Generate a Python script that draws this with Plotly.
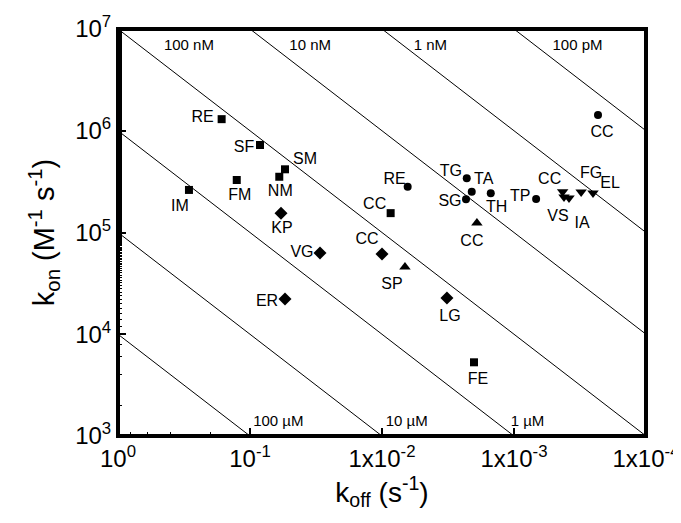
import plotly.graph_objects as go
import numpy as np

# ---------------- data ----------------
sq_names = ["RE", "SF", "SM", "NM", "FM", "IM", "CC", "FE"]
sq_koff = [0.164, 0.084, 0.0543, 0.060, 0.126, 0.29, 8.6e-3, 2.01e-3]
sq_kon = [1.30e6, 7.24e5, 4.18e5, 3.53e5, 3.28e5, 2.62e5, 1.55e5, 5.3e3]

di_names = ["KP", "VG", "ER", "CC", "LG"]
di_koff = [0.0582, 0.0295, 0.0543, 1.0e-2, 3.22e-3]
di_kon = [1.55e5, 6.3e4, 2.22e4, 6.15e4, 2.27e4]

tu_names = ["SP", "CC"]
tu_koff = [6.7e-3, 1.91e-3]
tu_kon = [4.58e4, 1.24e5]

ci_names = ["RE", "TG", "TA", "SG", "TH", "TP", "CC"]
ci_koff = [6.39e-3, 2.28e-3, 2.09e-3, 2.31e-3, 1.50e-3, 6.8e-4, 2.31e-4]
ci_kon = [2.82e5, 3.41e5, 2.52e5, 2.12e5, 2.43e5, 2.13e5, 1.43e6]

td_names = ["CC", "VS", "IA", "FG", "EL"]
td_koff = [4.28e-4, 4.18e-4, 3.83e-4, 3.10e-4, 2.52e-4]
td_kon = [2.52e5, 2.23e5, 2.18e5, 2.50e5, 2.44e5]

kd_values = [1e-4, 1e-5, 1e-6, 1e-7, 1e-8, 1e-9, 1e-10]
kd_labels = ["100 µM", "10 µM", "1 µM", "100 nM", "10 nM", "1 nM", "100 pM"]

x_tickvals = [1, 1e-1, 1e-2, 1e-3, 1e-4]
x_ticktext = ["10<sup>0</sup>", "10<sup>-1</sup>", "1x10<sup>-2</sup>", "1x10<sup>-3</sup>", "1x10<sup>-4</sup>"]
y_tickvals = [1e3, 1e4, 1e5, 1e6, 1e7]
y_ticktext = ["10<sup>3</sup>", "10<sup>4</sup>", "10<sup>5</sup>", "10<sup>6</sup>", "10<sup>7</sup>"]

# ---------------- layout specs ----------------
W, H = 673, 515
ML, MR, MT, MB = 110, 35, 21, 87
X_RANGE = [0, -4]
Y_RANGE = [3, 7]
PW, PH = W - ML - MR, H - MT - MB
XDEC_PER_PX = (X_RANGE[1] - X_RANGE[0]) / PW
YDEC_PER_PX = (Y_RANGE[1] - Y_RANGE[0]) / PH

# label offsets from their points, in px (right, up)
sq_shift = [(-19, 1), (-16, -3), (20, 9), (1, -15), (3, -16), (-9, -17), (-16, 8), (4, -18)]
di_shift = [(1, -16), (-18, 0), (-18, -3), (-15, 14), (3, -19)]
tu_shift = [(-13, -18), (-5, -19)]
ci_shift = [(-13, 7), (-16, 6), (12, 12), (-16, -3), (6, -15), (-16, 2), (4, -18)]
td_shift = [(-13, 12), (-6, -20), (13, -26), (10, 18), (17, 9)]

kd_label_pos = [(0.061, 1.37e3), (6.5e-3, 1.37e3), (7.9e-4, 1.37e3),
                (0.29, 6.8e6), (0.035, 6.8e6), (4.3e-3, 6.8e6), (3.3e-4, 6.8e6)]

FONT = "Liberation Sans, Arial, sans-serif"

fig = go.Figure()

koff_line = np.array([1.0, 1e-4])
for kd in kd_values:
    fig.add_trace(go.Scatter(x=koff_line, y=koff_line / kd, mode="lines",
                             line=dict(color="black", width=1), hoverinfo="skip",
                             showlegend=False))

series = [
    (sq_names, sq_koff, sq_kon, sq_shift, "square", 8),
    (di_names, di_koff, di_kon, di_shift, "diamond", 10),
    (tu_names, tu_koff, tu_kon, tu_shift, "triangle-up", 10),
    (ci_names, ci_koff, ci_kon, ci_shift, "circle", 8),
    (td_names, td_koff, td_kon, td_shift, "triangle-down", 10),
]

for names, kx, ky, shifts, sym, size in series:
    fig.add_trace(go.Scatter(x=kx, y=ky, mode="markers",
                             marker=dict(symbol=sym, size=size, color="black"),
                             showlegend=False, hoverinfo="skip"))
    lx = [10 ** (np.log10(v) + dx * XDEC_PER_PX) for v, (dx, dy) in zip(kx, shifts)]
    ly = [10 ** (np.log10(v) + dy * YDEC_PER_PX) for v, (dx, dy) in zip(ky, shifts)]
    fig.add_trace(go.Scatter(x=lx, y=ly, mode="text", text=names, textposition="middle center",
                             textfont=dict(family=FONT, size=16, color="black"),
                             showlegend=False, hoverinfo="skip"))

fig.add_trace(go.Scatter(x=[p[0] for p in kd_label_pos], y=[p[1] for p in kd_label_pos],
                         mode="text", text=kd_labels, textposition="middle center",
                         textfont=dict(family=FONT, size=15, color="black"),
                         showlegend=False, hoverinfo="skip"))

# plot frame drawn from the axis ranges
xlo, xhi = 10 ** X_RANGE[0], 10 ** X_RANGE[1]
ylo, yhi = 10 ** Y_RANGE[0], 10 ** Y_RANGE[1]
fig.add_trace(go.Scatter(x=[xlo, xhi, xhi, xlo, xlo], y=[ylo, ylo, yhi, yhi, ylo], mode="lines",
                         line=dict(color="black", width=4), showlegend=False,
                         cliponaxis=False, hoverinfo="skip"))

axis_common = dict(
    type="log", showgrid=False, zeroline=False, automargin=False,
    showline=True, linecolor="black", linewidth=2, mirror=True,
    ticks="inside", ticklen=8, tickwidth=2, tickcolor="black",
    minor=dict(ticks="inside", ticklen=4, tickwidth=1, tickcolor="black", showgrid=False),
    tickfont=dict(family=FONT, size=24, color="black"),
)

fig.update_layout(
    width=W, height=H,
    margin=dict(l=ML, r=MR, t=MT, b=MB),
    paper_bgcolor="white", plot_bgcolor="rgba(0,0,0,0)",
    xaxis=dict(axis_common, range=X_RANGE, tickvals=x_tickvals, ticktext=x_ticktext,
               title=dict(text="k<sub>off</sub> (s<sup>-1</sup>)",
                          font=dict(family=FONT, size=28, color="black"), standoff=4)),
    yaxis=dict(axis_common, range=Y_RANGE, tickvals=y_tickvals, ticktext=y_ticktext,
               title=dict(text="k<sub>on</sub> (M<sup>-1</sup> s<sup>-1</sup>)",
                          font=dict(family=FONT, size=29, color="black"), standoff=12)),
)

fig.write_html("out.html")
